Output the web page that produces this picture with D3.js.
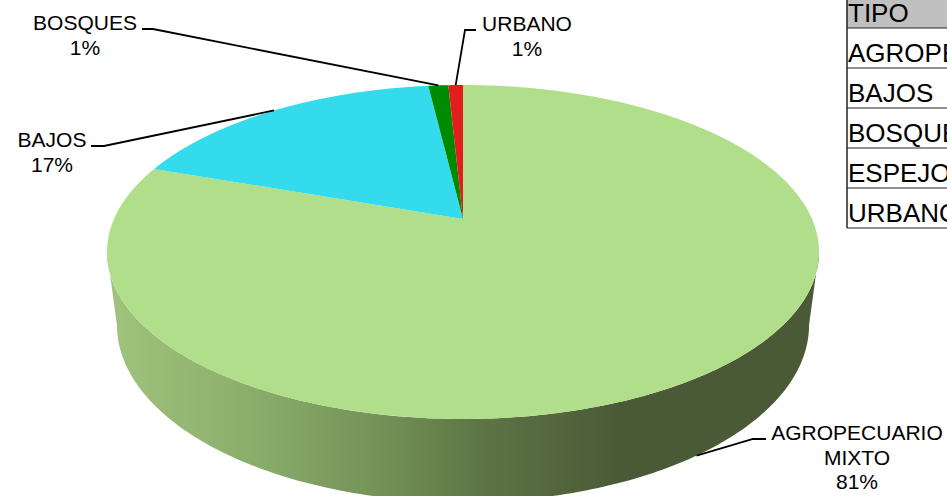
<!DOCTYPE html>
<html>
<head>
<meta charset="utf-8">
<script src="https://cdn.jsdelivr.net/npm/d3@7"></script>
<style>
html, body { margin: 0; padding: 0; background: #fff; overflow: hidden; }
svg { display: block; font-family: "Liberation Sans", Arial, sans-serif; }
</style>
</head>
<body>
<svg id="chart"></svg>
<script>
const categories = ["AGROPECUARIO MIXTO", "BAJOS", "BOSQUES", "URBANO"];
const values = [80.4, 17.7, 1.1, 0.8];
const percentLabels = ["81%", "17%", "1%", "1%"];
const colors = ["#b1de8a", "#33dbec", "#008a00", "#e31c1c"];
const tableRows = ["TIPO", "AGROPECUARIO MIXTO", "BAJOS", "BOSQUES", "ESPEJOS DE AGUA", "URBANO"];

const width = 947, height = 496;
const svg = d3.select("#chart").attr("width", width).attr("height", height);

// pie top is a circle seen in perspective, apex sits above the middle of the ellipse
const cx = 463, apexY = 219, persp = 0.1976, radiusX = 349, skewY = -117.2;
const rimScaleX = 0.972, rimCy = 325, rimRy = 177, topCy = 252, topRy = 167;

function project(angle, r = 1) {
    const u = Math.sin(angle) * r, v = Math.cos(angle) * r;
    const w = 1 + persp * v;
    return [cx + radiusX * u / w, (skewY * v + apexY) / w];
}

function lower(p) {
    return [cx + (p[0] - cx) * rimScaleX, rimCy + (p[1] - topCy) * rimRy / topRy];
}

const line = d3.line();
const pie = d3.pie().sort(null).value(d => d);
const arcs = pie(values);

// side wall, only the front half of the ellipse shows
const defs = svg.append("defs");
const grad = defs.append("linearGradient")
    .attr("id", "side")
    .attr("gradientUnits", "userSpaceOnUse")
    .attr("x1", 107).attr("x2", 819).attr("y1", 0).attr("y2", 0);
[[0, "#a0c47d"], [0.2, "#8bae6b"], [0.38, "#749358"], [0.52, "#5f7546"], [0.72, "#4a5a36"], [1, "#4a5a36"]]
    .forEach(s => grad.append("stop").attr("offset", s[0]).attr("stop-color", s[1]));

const steps = 200;
// angle where the ellipse is widest, about +-101 deg seen from the apex
const startA = Math.acos(-persp), endA = 2 * Math.PI - startA;
const frontAngles = d3.range(steps + 1).map(i => startA + (endA - startA) * i / steps);
const topEdge = frontAngles.map(a => project(a));
const lowEdge = topEdge.map(lower).reverse();

svg.append("path")
    .attr("d", line(topEdge.concat(lowEdge)) + "Z")
    .attr("fill", "url(#side)");

// top face
svg.selectAll("path.slice")
    .data(arcs)
    .join("path")
    .attr("class", "slice")
    .attr("fill", (d, i) => colors[i])
    .attr("d", d => {
        const n = Math.max(4, Math.ceil((d.endAngle - d.startAngle) * 60));
        const pts = d3.range(n + 1).map(i => project(d.startAngle + (d.endAngle - d.startAngle) * i / n));
        return line([project(0, 0)].concat(pts)) + "Z";
    });

// label layout: text centre, baseline of first line, elbow of the leader
const layout = [
    { x: 857, y: 440, lines: ["AGROPECUARIO", "MIXTO"], from: 766, elbow: 753, ey: 439, rim: true },
    { x: 52, y: 147, lines: ["BAJOS"], from: 91, elbow: 104, ey: 146 },
    { x: 85, y: 30, lines: ["BOSQUES"], from: 142, elbow: 153, ey: 29 },
    { x: 527, y: 31, lines: ["URBANO"], from: 476, elbow: 465, ey: 30 }
];

arcs.forEach((d, i) => {
    const l = layout[i];
    const mid = (d.startAngle + d.endAngle) / 2;
    const tip = l.rim ? lower(project(mid)) : project(mid);
    svg.append("path")
        .attr("d", line([[l.from, l.ey], [l.elbow, l.ey], tip]))
        .attr("fill", "none")
        .attr("stroke", "#000")
        .attr("stroke-width", 1.8);
    const t = svg.append("text")
        .attr("text-anchor", "middle")
        .attr("font-size", 21)
        .attr("fill", "#000");
    l.lines.concat(percentLabels[i]).forEach((s, j) => {
        t.append("tspan").attr("x", l.x).attr("y", l.y + j * 24.5).text(s);
    });
});

// table cut off by the right edge of the picture
const tableX = 847, rowH = 40, headH = 28;
const rowY = d3.scaleLinear().domain([0, 1]).range([headH - rowH, headH]);
const table = svg.append("g");
table.append("rect")
    .attr("x", tableX).attr("y", 0)
    .attr("width", width - tableX).attr("height", headH)
    .attr("fill", "#c0c0c0");
tableRows.forEach((s, i) => {
    table.append("line")
        .attr("x1", tableX).attr("x2", width)
        .attr("y1", rowY(i + 1)).attr("y2", rowY(i + 1))
        .attr("stroke", "#222").attr("stroke-width", 1.2);
    table.append("text")
        .attr("x", tableX + 1)
        .attr("y", rowY(i + 1) - 6.5)
        .attr("font-size", 26)
        .attr("fill", "#000")
        .text(s);
});
table.append("line")
    .attr("x1", tableX).attr("x2", tableX)
    .attr("y1", 0).attr("y2", rowY(tableRows.length))
    .attr("stroke", "#222").attr("stroke-width", 1.5);
</script>
</body>
</html>
